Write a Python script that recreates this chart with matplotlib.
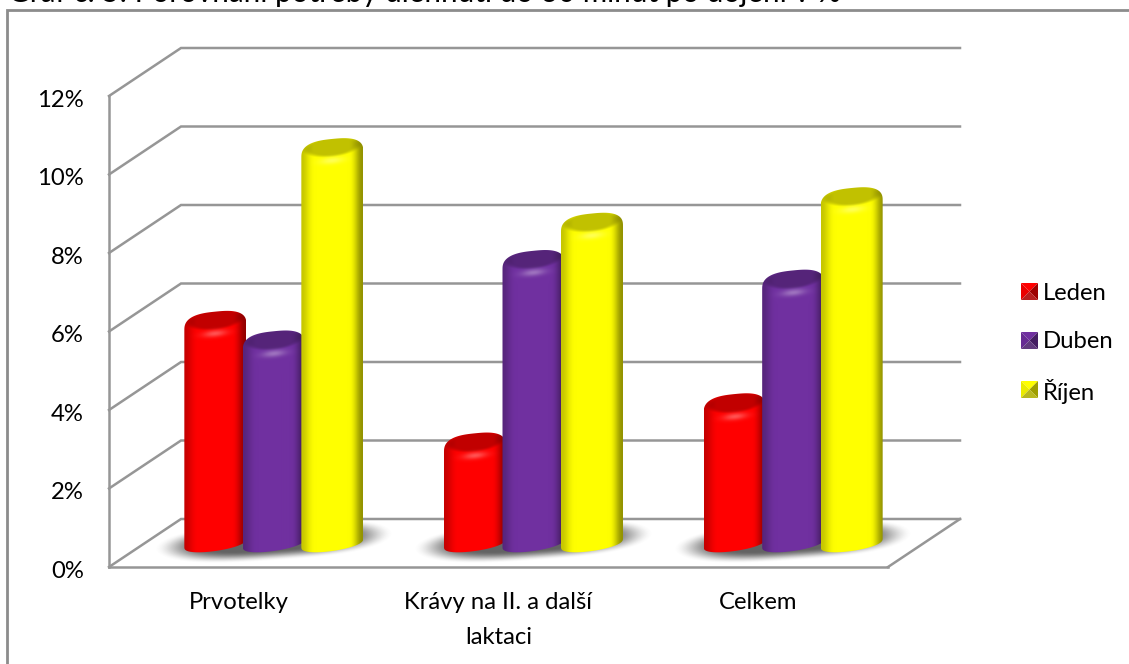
import numpy as np
import matplotlib
matplotlib.use('Agg')
import matplotlib.pyplot as plt
from matplotlib.colors import to_rgb
from matplotlib.patches import PathPatch, Polygon
from matplotlib.path import Path
from matplotlib.transforms import ScaledTranslation

categories = ['Prvotelky', 'Krávy na II. a další\nlaktaci', 'Celkem']
series_names = ['Leden', 'Duben', 'Říjen']
leden = [5.5, 2.4, 3.4]
duben = [5.0, 7.05, 6.55]
rijen = [9.9, 8.0, 8.65]
y_ticks = [0, 2, 4, 6, 8, 10, 12]
title = 'Graf č. 5: Porovnání potřeby ulehnutí do 30 minut po dojení v %'

colors = ['#ff0000', '#7030a0', '#ffff00']
grid_color = '#969696'

W, H = 1129, 664
plt.rcParams['font.family'] = ['Lato', 'DejaVu Sans']

# pixels per unit on both axes
AX_LEFT, AX_RIGHT, AX_TOP, AX_BOTTOM = 109, 888, 96, 567
PX_X = (AX_RIGHT - AX_LEFT) / 3
PX_Y = (AX_BOTTOM - AX_TOP) / 12
# depth of the fake 3d box
DEPTH_X, DEPTH_Y = 72, 48
BAR_W = 62
BAR_STEP = 58.5
SLOPE = 0.14
TOP_SLOPE = 0.1
LABEL_SIZE = 17.2


def smooth(v):
    v = np.clip(v, 0, 1)
    return v * v * (3 - 2 * v)


def outline(a, top, b_top=15.5, b_bot=8):
    """cylinder outline in pixels, origin at the centre of the base"""
    t = np.linspace(0, np.pi, 60)
    cx = np.sign(np.cos(t)) * np.abs(np.cos(t)) ** 0.72
    dx = a * cx
    dy = top + b_top * np.abs(np.sin(t)) ** 0.75 + TOP_SLOPE * dx
    t2 = np.linspace(np.pi, 2 * np.pi, 60)
    dx2 = a * np.cos(t2)
    dy2 = -b_bot * np.abs(np.sin(t2)) ** 0.8 + SLOPE * dx2
    return np.r_[dx, dx2], np.r_[dy, dy2]


def cylinder_image(color, top, a):
    base = np.array(to_rgb(color))
    ys = np.arange(-20, top + 30)
    xs = np.arange(-a, a + 1)
    u, v = np.meshgrid(xs, ys)
    n = u / a
    edge = smooth((np.abs(n) - 0.5) / 0.5) ** 1.5
    side = np.where(n > 0, 0.42, 0.22) * edge
    shade = 1 - side
    # darker lid, fading out towards the front
    lid = (u / (a * 0.92)) ** 2 + ((v - top - 7 - TOP_SLOPE * u) / 10.0) ** 2
    shade = shade * (1 - 0.24 * smooth((1.25 - lid) / 0.7))
    img = base[None, None, :] * shade[:, :, None]
    # glint just under the lid
    glint = np.exp(-(u / 12.0) ** 2 - ((v - top + 7 - TOP_SLOPE * u) / 3.5) ** 2)
    img = img + (1 - img) * 0.32 * glint[:, :, None]
    return np.clip(img, 0, 1), xs, ys


def draw_bar(ax, xc, value, color, z):
    # xc in category units, base sits half way through the box depth
    y0 = DEPTH_Y / 2 / PX_Y
    a = BAR_W / 2
    top = value * PX_Y
    dx, dy = outline(a, top)
    verts = np.c_[xc + dx / PX_X, y0 + dy / PX_Y]
    patch = PathPatch(Path(np.r_[verts, verts[:1]], closed=True), fc='none', ec='none', zorder=z)
    ax.add_patch(patch)
    img, xs, ys = cylinder_image(color, int(round(top)), int(a))
    im = ax.imshow(img, origin='lower', aspect='auto', interpolation='bilinear', zorder=z,
                   extent=[xc + xs[0] / PX_X, xc + xs[-1] / PX_X, y0 + ys[0] / PX_Y, y0 + ys[-1] / PX_Y])
    im.set_clip_path(patch)


def draw_shadow(ax, xc):
    y0 = DEPTH_Y / 2 / PX_Y
    xs = np.arange(-124, 125)
    ys = np.arange(-26, 27)
    u, v = np.meshgrid(xs, ys)
    r = np.sqrt(np.abs(u / 120.0) ** 3 + ((v - 2 - 0.067 * u) / 20.0) ** 2)
    rgba = np.zeros(r.shape + (4,))
    rgba[:, :, :3] = 0.32
    rgba[:, :, 3] = 0.9 * smooth((1 - r) / 0.55)
    ax.imshow(rgba, origin='lower', aspect='auto', interpolation='bilinear', zorder=3, clip_on=False,
              extent=[xc + xs[0] / PX_X, xc + xs[-1] / PX_X, y0 + ys[0] / PX_Y, y0 + ys[-1] / PX_Y])


def legend_key(fig, color, x0, y_top, size=17):
    # square key cut into four shaded triangles, in figure pixels
    base = np.array(to_rgb(color))
    x1 = x0 + size
    y0 = H - y_top - size
    y1 = H - y_top
    c = ((x0 + x1) / 2, (y0 + y1) / 2)
    parts = [([(x0, y1), (x1, y1), c], base),
             ([(x0, y0), (x0, y1), c], base * 0.92),
             ([(x1, y0), (x1, y1), c], base * 0.62),
             ([(x0, y0), (x1, y0), c], np.clip(base * 0.6 + 0.12, 0, 1))]
    for pts, col in parts:
        scaled = [(px / W, py / H) for px, py in pts]
        fig.add_artist(Polygon(scaled, closed=True, fc=col, ec='none', transform=fig.transFigure))


fig = plt.figure(figsize=(W / 100, H / 100), dpi=100, facecolor='white')
ax = fig.add_axes([AX_LEFT / W, 1 - AX_BOTTOM / H, (AX_RIGHT - AX_LEFT) / W, (AX_BOTTOM - AX_TOP) / H])
ax.set_facecolor('none')

# outer frame runs off the right and bottom edge
fig.add_artist(plt.Line2D([7 / W, 7 / W, 1], [0, 1 - 10 / H, 1 - 10 / H], color='#8c8c8c', lw=2.0,
                          solid_joinstyle='miter'))
fig.text(8 / W, 1 - 2 / H, title, fontsize=21.3, color='black', va='baseline', ha='left')

dx3 = DEPTH_X / PX_X
dy3 = DEPTH_Y / PX_Y
lw = 1.8
for v in y_ticks:
    ax.plot([-0.5, -0.5 + dx3, 2.5 + dx3], [v, v + dy3, v + dy3], color=grid_color, lw=lw, clip_on=False,
            zorder=1, solid_joinstyle='miter')
ax.plot([2.5, 2.5 + dx3], [0, dy3], color=grid_color, lw=lw, clip_on=False, zorder=1)

offset_c = 35 / PX_X
step = BAR_STEP / PX_X
for i in range(len(categories)):
    xc = i + offset_c
    draw_shadow(ax, xc)
    for j, vals in enumerate([leden, duben, rijen]):
        draw_bar(ax, xc + (j - 1) * step, vals[i], colors[j], 4 + j)

ax.set_xlim(-0.5, 2.5)
ax.set_ylim(0, 12)
ax.set_xticks(range(len(categories)))
ax.set_xticklabels(categories, fontsize=LABEL_SIZE, linespacing=1.85, va='top')
ax.set_yticks(y_ticks)
ax.set_yticklabels(['%d%%' % v for v in y_ticks], fontsize=LABEL_SIZE)
ax.tick_params(axis='both', length=0)
ax.tick_params(axis='x', pad=18)
ax.tick_params(axis='y', pad=18)
# percent labels sit a little below their lines
nudge = ScaledTranslation(0, -2.5 / 100, fig.dpi_scale_trans)
for lab in ax.get_yticklabels():
    lab.set_transform(lab.get_transform() + nudge)
for side in ['top', 'right']:
    ax.spines[side].set_visible(False)
for side in ['left', 'bottom']:
    ax.spines[side].set_color(grid_color)
    ax.spines[side].set_linewidth(lw)

# legend rows, placed by hand so the row spacing stays even
for name, color, key_top, text_y in zip(series_names, colors, [283, 332, 381], [292, 340, 389]):
    legend_key(fig, color, 1021, key_top)
    fig.text(1043 / W, 1 - text_y / H, name, fontsize=LABEL_SIZE, va='center_baseline', ha='left')

fig.savefig('out.png', dpi=100)
